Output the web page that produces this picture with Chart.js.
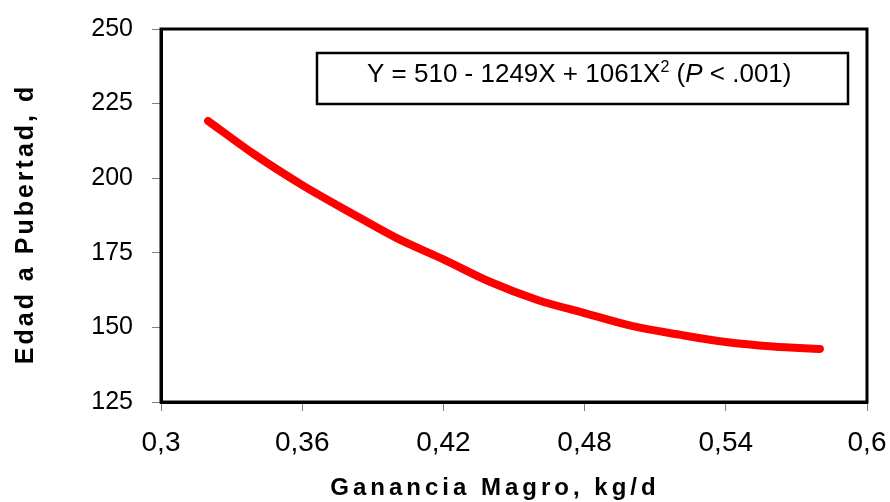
<!DOCTYPE html>
<html>
<head>
<meta charset="utf-8">
<script src="https://cdn.jsdelivr.net/npm/chart.js@4.4.1/dist/chart.umd.min.js"></script>
<style>
  html, body { margin: 0; padding: 0; background: #fff; }
  #wrap { width: 890px; height: 502px; }
</style>
</head>
<body>
<div id="wrap"><canvas id="grafico"></canvas></div>
<script>
// Datos (ganancia de magro vs. edad a pubertad)
const ganancia = [0.32, 0.34, 0.36, 0.38, 0.40, 0.42, 0.44, 0.46, 0.48, 0.50, 0.52, 0.54, 0.56, 0.58];
const edad = [219.2, 207.8, 197.7, 188.7, 180.0, 172.8, 165.2, 159.2, 154.8, 150.5, 147.6, 145.1, 143.6, 142.8];
const ticksX = [0.3, 0.36, 0.42, 0.48, 0.54, 0.6];
const ticksY = [125, 150, 175, 200, 225, 250];
const tituloX = 'Ganancia Magro, kg/d';
const tituloY = 'Edad a Pubertad, d';
const ecuacion = ['Y = 510 - 1249X + 1061X', '2', ' (', 'P', ' < .001)'];

const fuente = 'Arial, "Liberation Sans", sans-serif';

// marco del área, caja de la ecuación y títulos de los ejes
const extras = {
  id: 'extras',
  afterDraw(chart) {
    const { ctx, chartArea: a } = chart;
    ctx.save();
    ctx.strokeStyle = '#000';
    ctx.lineWidth = 3;
    ctx.strokeRect(a.left, a.top, a.right - a.left, a.bottom - a.top);

    // caja
    ctx.lineWidth = 2.5;
    ctx.strokeRect(317, 53, 531, 51);
    ctx.fillStyle = '#000';
    ctx.textBaseline = 'alphabetic';
    ctx.textAlign = 'left';
    let x = 367;
    const base = 82;
    ecuacion.forEach((t, i) => {
      if (i === 1) ctx.font = '16px ' + fuente;
      else if (i === 3) ctx.font = 'italic 26px ' + fuente;
      else ctx.font = '26px ' + fuente;
      ctx.fillText(t, x, i === 1 ? base - 10 : base);
      x += ctx.measureText(t).width;
    });

    // títulos
    ctx.letterSpacing = '4px';
    ctx.font = 'bold 24px ' + fuente;
    ctx.textAlign = 'center';
    ctx.fillText(tituloX, 495, 495);

    ctx.letterSpacing = '3px';
    ctx.font = 'bold 25px ' + fuente;
    ctx.translate(33, 224);
    ctx.rotate(-Math.PI / 2);
    ctx.fillText(tituloY, 0, 0);
    ctx.restore();
  }
};

const ctx = document.getElementById('grafico').getContext('2d');
const grafico = new Chart(ctx, {
  type: 'line',
  data: {
    datasets: [{
      data: ganancia.map((g, i) => ({ x: g, y: edad[i] })),
      borderColor: '#ff0000',
      borderWidth: 8,
      borderCapStyle: 'round',
      borderJoinStyle: 'round',
      pointRadius: 0,
      cubicInterpolationMode: 'monotone',
      fill: false
    }]
  },
  options: {
    responsive: true,
    maintainAspectRatio: false,
    animation: false,
    layout: { padding: { top: 29, right: 23, bottom: 0, left: 0 } },
    plugins: { legend: { display: false }, tooltip: { enabled: false } },
    scales: {
      x: {
        type: 'linear',
        min: 0.3,
        max: 0.6,
        afterBuildTicks: s => { s.ticks = ticksX.map(v => ({ value: v })); },
        afterFit: s => { s.height = 100; s.paddingLeft = 0; s.paddingRight = 0; },
        ticks: {
          color: '#000',
          font: { family: fuente, size: 28 },
          padding: 15,
          maxRotation: 0,
          autoSkip: false,
          callback: v => String(v).replace('.', ',')
        },
        grid: { drawOnChartArea: false, drawTicks: true, tickLength: 9, color: '#808080' },
        border: { display: true, color: '#000', width: 3 }
      },
      y: {
        min: 125,
        max: 250,
        afterBuildTicks: s => { s.ticks = ticksY.map(v => ({ value: v })); },
        afterFit: s => { s.width = 161; s.paddingTop = 0; s.paddingBottom = 0; },
        ticks: {
          color: '#000',
          font: { family: fuente, size: 25 },
          padding: 19
        },
        grid: { drawOnChartArea: false, drawTicks: true, tickLength: 9, color: '#808080' },
        border: { display: true, color: '#000', width: 3 }
      }
    }
  },
  plugins: [extras]
});
</script>
</body>
</html>
